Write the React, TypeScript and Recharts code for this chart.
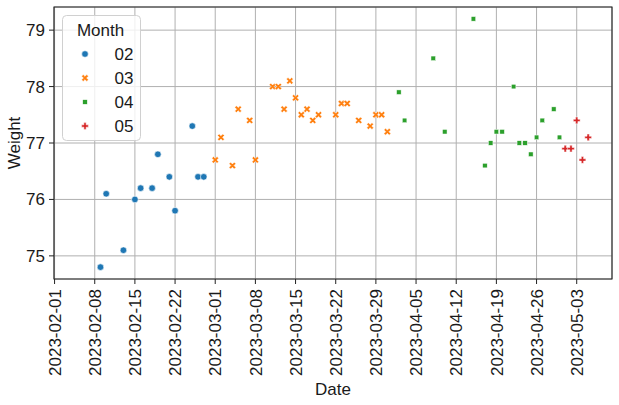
import React from "react"
import { ScatterChart, Scatter, XAxis, YAxis, CartesianGrid, Legend, ReferenceArea } from "recharts"

const DAY = 86400000

// weigh-ins per month
const febDates = ["2023-02-09", "2023-02-10", "2023-02-13", "2023-02-15", "2023-02-16", "2023-02-18", "2023-02-19", "2023-02-21", "2023-02-22", "2023-02-25", "2023-02-26", "2023-02-27"]
const febWeights = [74.8, 76.1, 75.1, 76.0, 76.2, 76.2, 76.8, 76.4, 75.8, 77.3, 76.4, 76.4]

const marDates = ["2023-03-01", "2023-03-02", "2023-03-04", "2023-03-05", "2023-03-07", "2023-03-08", "2023-03-11", "2023-03-12", "2023-03-13", "2023-03-14", "2023-03-15", "2023-03-16", "2023-03-17", "2023-03-18", "2023-03-19", "2023-03-22", "2023-03-23", "2023-03-24", "2023-03-26", "2023-03-28", "2023-03-29", "2023-03-30", "2023-03-31"]
const marWeights = [76.7, 77.1, 76.6, 77.6, 77.4, 76.7, 78.0, 78.0, 77.6, 78.1, 77.8, 77.5, 77.6, 77.4, 77.5, 77.5, 77.7, 77.7, 77.4, 77.3, 77.5, 77.5, 77.2]

const aprDates = ["2023-04-02", "2023-04-03", "2023-04-08", "2023-04-10", "2023-04-15", "2023-04-17", "2023-04-18", "2023-04-19", "2023-04-20", "2023-04-22", "2023-04-23", "2023-04-24", "2023-04-25", "2023-04-26", "2023-04-27", "2023-04-29", "2023-04-30"]
const aprWeights = [77.9, 77.4, 78.5, 77.2, 79.2, 76.6, 77.0, 77.2, 77.2, 78.0, 77.0, 77.0, 76.8, 77.1, 77.4, 77.6, 77.1]

const mayDates = ["2023-05-01", "2023-05-02", "2023-05-03", "2023-05-04", "2023-05-05"]
const mayWeights = [76.9, 76.9, 77.4, 76.7, 77.1]

const months = ["02", "03", "04", "05"]
const monthColors = ["#1f77b4", "#ff7f0e", "#2ca02c", "#d62728"]
const monthMarkers = ["circle", "x", "square", "plus"]

const xTickDates = ["2023-02-01", "2023-02-08", "2023-02-15", "2023-02-22", "2023-03-01", "2023-03-08", "2023-03-15", "2023-03-22", "2023-03-29", "2023-04-05", "2023-04-12", "2023-04-19", "2023-04-26", "2023-05-03"]
const yTicks = [75, 76, 77, 78, 79]

const toPoints = (dates: string[], weights: number[]) => dates.map((d, i) => ({ x: Date.parse(d), y: weights[i] }))
const seriesData = [toPoints(febDates, febWeights), toPoints(marDates, marWeights), toPoints(aprDates, aprWeights), toPoints(mayDates, mayWeights)]

const START = Date.parse("2023-02-01")
const X_DOMAIN = [START - 0.1 * DAY, START + 97.15 * DAY]
const Y_DOMAIN = [74.59, 79.41]
const TEXT = "#1a1a1a"

const fmtDate = (v: number) => new Date(v).toISOString().slice(0, 10)

function Marker({ kind, cx, cy, color }: { kind: string; cx: number; cy: number; color: string }) {
  if (kind === "circle") return <circle cx={cx} cy={cy} r={3.3} fill={color} stroke="#fff" strokeWidth={0.6} />
  if (kind === "square")
    return <rect x={cx - 2.3} y={cy - 2.3} width={4.6} height={4.6} fill={color} stroke="#fff" strokeWidth={0.5} />
  const s = kind === "x" ? 3.7 : 3.4
  const w = 1.15
  const pts = [
    [-w, -s], [w, -s], [w, -w], [s, -w], [s, w], [w, w],
    [w, s], [-w, s], [-w, w], [-s, w], [-s, -w], [-w, -w],
  ]
  return (
    <polygon
      points={pts.map((p) => p.join(",")).join(" ")}
      transform={`translate(${cx},${cy}) rotate(${kind === "x" ? 45 : 0})`}
      fill={color}
      stroke="#fff"
      strokeWidth={0.5}
    />
  )
}

const DateTick = (props: any) => {
  const { x, y, payload } = props
  return (
    <text x={0} y={0} transform={`translate(${x},${y}) rotate(-90)`} textAnchor="end" dy="0.36em" fontSize={17} fill={TEXT}>
      {fmtDate(payload.value)}
    </text>
  )
}

const MonthLegend = () => (
  <svg width={79} height={126} style={{ display: "block" }}>
    <rect x={0.5} y={0.5} width={78} height={125} rx={4} fill="#fff" fillOpacity={0.8} stroke="#d0d0d0" />
    <text x={38.5} y={20.5} textAnchor="middle" fontSize={17} fill={TEXT}>Month</text>
    {months.map((m, i) => (
      <g key={m}>
        <Marker kind={monthMarkers[i]} cx={23} cy={39 + i * 24} color={monthColors[i]} />
        <text x={71.5} y={45 + i * 24} textAnchor="end" fontSize={17} fill={TEXT}>{m}</text>
      </g>
    ))}
  </svg>
)

export default function App() {
  return (
    <div
      style={{
        position: "absolute",
        left: 0,
        top: 0,
        width: 619,
        height: 405,
        background: "#fff",
        fontFamily: "'Liberation Sans', Arial, sans-serif",
      }}
    >
      <ScatterChart width={619} height={405} margin={{ top: 7, right: 7, bottom: 0, left: 0 }}>
        <CartesianGrid stroke="#b0b0b0" strokeWidth={1} />
        <XAxis
          type="number"
          dataKey="x"
          domain={X_DOMAIN}
          ticks={xTickDates.map((d) => Date.parse(d))}
          interval={0}
          allowDataOverflow
          height={126}
          axisLine={false}
          tickLine={{ stroke: "#222" }}
          tickSize={5}
          tickMargin={5}
          tick={<DateTick />}
          label={{ value: "Date", position: "insideBottom", offset: 10, fontSize: 17, fill: TEXT }}
        />
        <YAxis
          type="number"
          dataKey="y"
          domain={Y_DOMAIN}
          ticks={yTicks}
          allowDataOverflow
          width={54}
          axisLine={false}
          tickLine={{ stroke: "#222" }}
          tickSize={5}
          tickMargin={4}
          tick={{ fontSize: 17, fill: TEXT }}
          label={{ value: "Weight", angle: -90, position: "insideLeft", offset: 14, fontSize: 17, fill: TEXT, style: { textAnchor: "middle" } }}
        />
        {months.map((m, i) => (
          <Scatter
            key={m}
            name={m}
            data={seriesData[i]}
            isAnimationActive={false}
            shape={(p: any) => <Marker kind={monthMarkers[i]} cx={p.cx} cy={p.cy} color={monthColors[i]} />}
          />
        ))}
        <ReferenceArea x1={X_DOMAIN[0]} x2={X_DOMAIN[1]} y1={Y_DOMAIN[0]} y2={Y_DOMAIN[1]} fill="none" stroke="#222" strokeWidth={1.1} />
        <Legend
          layout="vertical"
          align="center"
          verticalAlign="middle"
          content={<MonthLegend />}
          wrapperStyle={{ left: 62, top: 15, width: 79, height: 126 }}
        />
      </ScatterChart>
    </div>
  )
}
